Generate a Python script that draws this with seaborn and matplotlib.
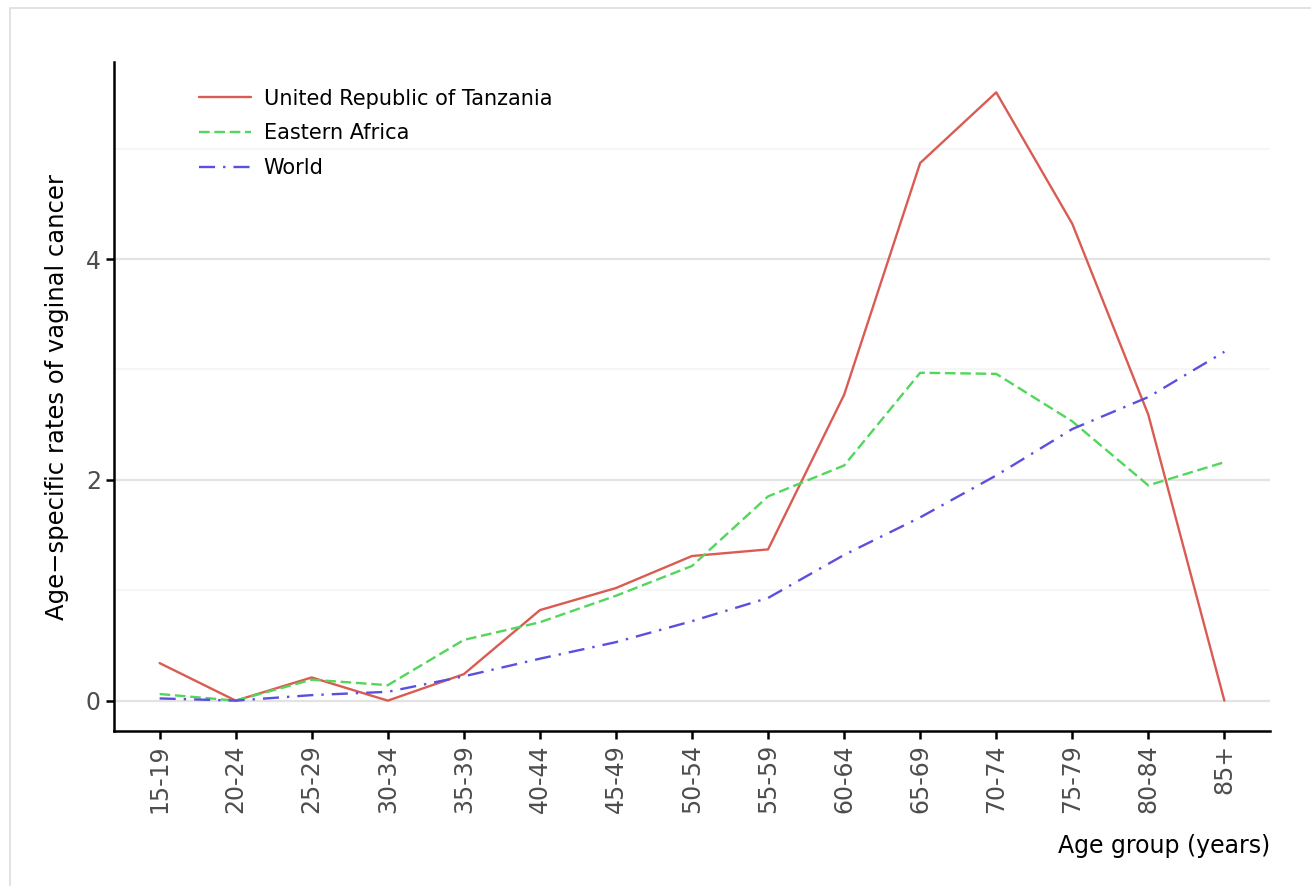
import numpy as np
import pandas as pd
import matplotlib
matplotlib.use("Agg")
import matplotlib.pyplot as plt
import seaborn as sns
from matplotlib.patches import Rectangle
from matplotlib.ticker import MultipleLocator

# Datos
age_groups = ["15-19", "20-24", "25-29", "30-34", "35-39", "40-44", "45-49",
              "50-54", "55-59", "60-64", "65-69", "70-74", "75-79", "80-84", "85+"]
tanzania = [0.34, 0.00, 0.21, 0.00, 0.24, 0.82, 1.02, 1.31, 1.37, 2.77,
            4.87, 5.51, 4.32, 2.59, 0.00]
eastern_africa = [0.06, 0.00, 0.19, 0.14, 0.55, 0.71, 0.95, 1.22, 1.85, 2.13,
                  2.97, 2.96, 2.53, 1.95, 2.16]
world = [0.02, 0.00, 0.05, 0.08, 0.22, 0.38, 0.53, 0.72, 0.93, 1.32,
         1.66, 2.04, 2.46, 2.75, 3.16]
series_names = ["United Republic of Tanzania", "Eastern Africa", "World"]

df = pd.DataFrame({
    "age": age_groups * 3,
    "rate": tanzania + eastern_africa + world,
    "area": np.repeat(series_names, len(age_groups)),
})

sns.set_style("white")
plt.rcParams["font.family"] = ["DejaVu Sans"]

fig = plt.figure(figsize=(13.11, 8.86), dpi=100)
ax = fig.add_axes([114 / 1311, 1 - 731 / 886, (1270 - 114) / 1311, (731 - 62) / 886])

# marco gris claro de la figura
fig.patches.append(Rectangle((10 / 1311, -0.05), 1.1, 1 - 8 / 886 + 0.05,
                             transform=fig.transFigure, fill=False,
                             edgecolor="#DDDDDD", linewidth=1.2))

palette = {"United Republic of Tanzania": "#DA5B52",
           "Eastern Africa": "#52D65C",
           "World": "#5A4FDE"}
dashes = {"United Republic of Tanzania": "",
          "Eastern Africa": (4.5, 2),
          "World": (6.8, 3.4, 1, 3.4)}

sns.lineplot(data=df, x="age", y="rate", hue="area", style="area",
             palette=palette, dashes=dashes, linewidth=1.7, sort=False, ax=ax)

ax.set_xlim(-0.6, 14.6)
ax.set_ylim(-0.275, 5.785)
ax.yaxis.set_major_locator(MultipleLocator(2))
ax.yaxis.set_minor_locator(MultipleLocator(1))
ax.grid(which="major", axis="y", color="#E3E3E3", linewidth=1.6)
ax.grid(which="minor", axis="y", color="#F6F6F6", linewidth=1.6)
ax.grid(False, axis="x")
ax.set_axisbelow(True)

for s in ["top", "right"]:
    ax.spines[s].set_visible(False)
for s in ["left", "bottom"]:
    ax.spines[s].set_color("black")
    ax.spines[s].set_linewidth(1.8)

ax.tick_params(axis="both", which="major", length=6, width=1.8, color="black",
               labelsize=17, labelcolor="#4D4D4D", left=True, bottom=True)
ax.tick_params(axis="y", which="minor", length=0)
plt.setp(ax.get_xticklabels(), rotation=90)

ax.set_xlabel("Age group (years)", fontsize=17, color="black",
              loc="right", labelpad=15)
ax.set_ylabel("Age\u2212specific rates of vaginal cancer", fontsize=17.5,
              color="black", labelpad=12)

leg = ax.legend(loc="upper left", bbox_to_anchor=(0.057, 0.988), frameon=False,
                fontsize=15, handlelength=2.5, handletextpad=0.62,
                labelspacing=0.7, title=None)
for t in leg.get_texts():
    t.set_color("black")

fig.savefig("out.png", dpi=100, facecolor="white")
